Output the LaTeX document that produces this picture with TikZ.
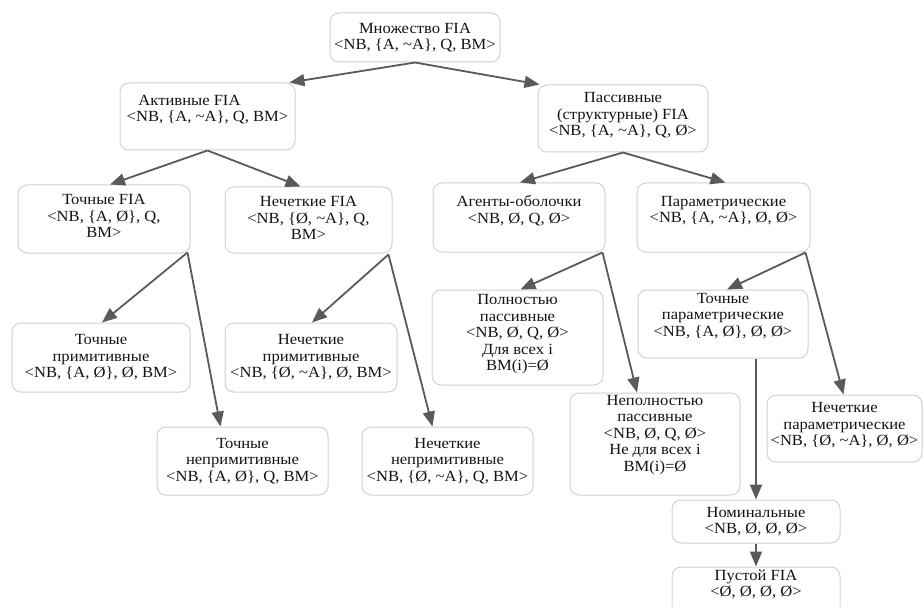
\documentclass[tikz,border=0pt]{standalone}
\usepackage{fontspec}
\setmainfont{Liberation Serif}[FakeStretch=1.07]
\usetikzlibrary{arrows.meta,calc}
\definecolor{edgecol}{HTML}{5A5A5A}
\definecolor{boxline}{HTML}{D2D2D2}
\definecolor{txtcol}{HTML}{141414}
\tikzset{
 box/.style={draw=boxline, line width=1pt, rounded corners=9pt, fill=white, inner sep=0pt},
 txt/.style={align=center, text=txtcol, inner sep=0pt, font=\fontsize{15.5pt}{16.5pt}\selectfont},
 arr/.style={draw=edgecol, line width=1.8pt, -{Triangle[length=15pt,width=12pt]}},
}
\newcommand\mybox[7]{%
 \pgfmathsetmacro\bxw{#3-#2}\pgfmathsetmacro\bxh{#5-#4}%
 \pgfmathsetmacro\bxcx{(#2+#3)/2}\pgfmathsetmacro\bxcy{-(#4+#5)/2}%
 \node[box,minimum width=\bxw pt,minimum height=\bxh pt] (#1) at (\bxcx pt,\bxcy pt) {};%
 \node[txt] (#1-t) at ($(#1.center)+(0,#6pt)$) {#7};}
\begin{document}
\begin{tikzpicture}
\useasboundingbox (0,0) rectangle (924pt,-607pt);
\clip (0,0) rectangle (924pt,-607pt);
\fill[white] (0,0) rectangle (924pt,-607pt);
\mybox{top}{330}{500}{13}{62}{0}{Множество FIA\\<NB, \{A, \textasciitilde A\}, Q, BM>}
\mybox{act}{120}{295}{83}{150}{7}{Активные FIA\hspace*{36pt}\\<NB, \{A, \textasciitilde A\}, Q, BM>}
\mybox{pas}{538}{708}{85}{152}{3}{Пассивные\\(структурные) FIA\\<NB, \{A, \textasciitilde A\}, Q, Ø>}
\mybox{tfia}{18}{190}{185}{253}{3}{Точные FIA\\<NB, \{A, Ø\}, Q,\\BM>}
\mybox{nfia}{225}{392}{187}{253}{2}{Нечеткие FIA\\<NB, \{Ø, \textasciitilde A\}, Q,\\BM>}
\mybox{agent}{433}{605}{183}{252}{7}{Агенты-оболочки\\<NB, Ø, Q, Ø>}
\mybox{param}{637}{810}{183}{252}{7}{Параметрические\\<NB, \{A, \textasciitilde A\}, Ø, Ø>}
\mybox{tprim}{12}{190}{323}{392}{0}{Точные\\примитивные\\<NB, \{A, Ø\}, Ø, BM>}
\mybox{nprim}{225}{397}{323}{392}{0}{Нечеткие\\примитивные\\<NB, \{Ø, \textasciitilde A\}, Ø, BM>}
\mybox{poln}{432}{603}{290}{385}{3}{Полностью\\пассивные\\<NB, Ø, Q, Ø>\\Для всех i\\BM(i)=Ø}
\mybox{tparam}{638}{808}{290}{358}{8}{Точные\\параметрические\\<NB, \{A, Ø\}, Ø, Ø>}
\mybox{tneprim}{157}{328}{427}{495}{0}{Точные\\непримитивные\\<NB, \{A, Ø\}, Q, BM>}
\mybox{nneprim}{362}{533}{427}{495}{0}{Нечеткие\\непримитивные\\<NB, \{Ø, \textasciitilde A\}, Q, BM>}
\mybox{nepoln}{570}{740}{393}{495}{9}{Неполностью\\пассивные\\<NB, Ø, Q, Ø>\\Не для всех i\\BM(i)=Ø}
\mybox{nparam}{767}{922}{395}{462}{3}{Нечеткие\\параметрические\\<NB, \{Ø, \textasciitilde A\}, Ø, Ø>}
\mybox{nom}{672}{840}{500}{543}{0}{Номинальные\\<NB, Ø, Ø, Ø>}
\mybox{empty}{672}{840}{567}{620}{9}{Пустой FIA\\<Ø, Ø, Ø, Ø>}
% connectors
\draw[arr] (top.south) -- ($(act.north east)+(-6pt,0)$);
\draw[arr] (top.south) -- ($(pas.north west)+(2pt,0)$);
\draw[arr] (act.south) -- ($(tfia.north)+(6pt,0)$);
\draw[arr] (act.south) -- ($(nfia.north)+(-8pt,0)$);
\draw[arr] (pas.south) -- ($(agent.north)+(1pt,0)$);
\draw[arr] (pas.south) -- ($(param.north)+(2pt,0)$);
\draw[arr] ($(tfia.south east)+(-3pt,1pt)$) -- ($(tprim.north)+(1pt,0)$);
\draw[arr] ($(tfia.south east)+(-3pt,1pt)$) -- ($(tneprim.north)+(-22pt,0)$);
\draw[arr] ($(nfia.south east)+(-4pt,-1pt)$) -- ($(nprim.north)+(1pt,0)$);
\draw[arr] ($(nfia.south east)+(-4pt,-1pt)$) -- ($(nneprim.north)+(-15pt,0)$);
\draw[arr] ($(agent.south east)+(-3pt,0)$) -- ($(poln.north)+(3pt,0)$);
\draw[arr] ($(agent.south east)+(-3pt,0)$) -- ($(nepoln.north)+(-18pt,0)$);
\draw[arr] ($(param.south east)+(-5pt,0)$) -- ($(tparam.north)+(4pt,0)$);
\draw[arr] ($(param.south east)+(-5pt,0)$) -- ($(nparam.north)+(-1pt,0)$);
\draw[arr] (tparam.south -| nom.north) -- (nom.north);
\draw[arr] (nom.south) -- (empty.north);
\end{tikzpicture}
\end{document}
